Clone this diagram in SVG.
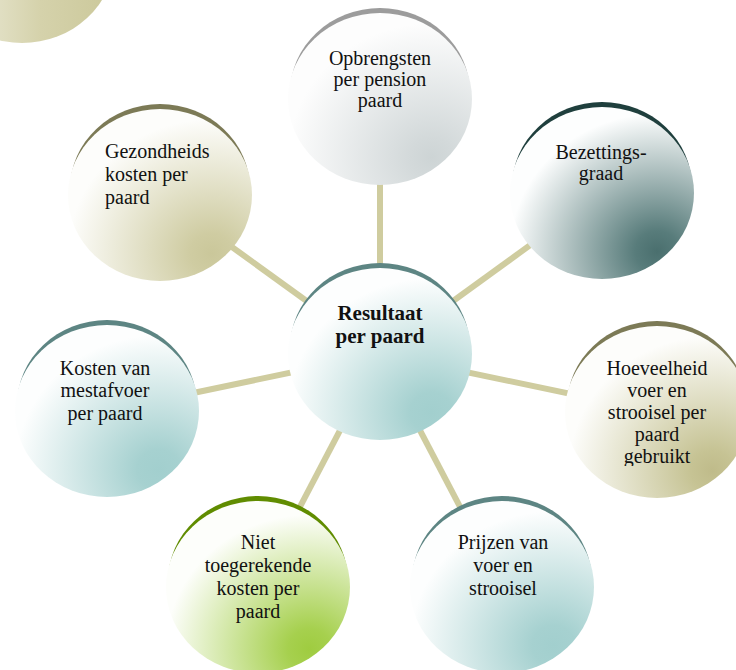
<svg xmlns="http://www.w3.org/2000/svg" width="736" height="670" viewBox="0 0 736 670">
<defs>
<style>
.lbl{font-family:"Liberation Serif","Times New Roman",serif;font-size:20px;fill:#111;text-anchor:middle}
.left{text-anchor:start}
.bold{font-weight:bold;font-size:21px}
.conn{stroke:#cfcc9f;stroke-width:6;fill:none}
</style>
<radialGradient id="gTeal" cx="0.78" cy="0.84" r="0.78"><stop offset="0" stop-color="#a2cfce"/><stop offset="0.15" stop-color="#a6d1d0"/><stop offset="1" stop-color="#fdfefe"/></radialGradient>
<radialGradient id="gOlive" cx="0.78" cy="0.84" r="0.78"><stop offset="0" stop-color="#cac79a"/><stop offset="0.15" stop-color="#cfcca2"/><stop offset="1" stop-color="#fdfdfb"/></radialGradient>
<radialGradient id="gOlive2" cx="0.8" cy="0.84" r="0.78"><stop offset="0" stop-color="#bfbb8a"/><stop offset="0.15" stop-color="#c6c394"/><stop offset="1" stop-color="#fdfdfb"/></radialGradient>
<radialGradient id="gGreen" cx="0.78" cy="0.86" r="0.78"><stop offset="0" stop-color="#9fcc40"/><stop offset="0.15" stop-color="#a6d04e"/><stop offset="1" stop-color="#fdfefb"/></radialGradient>
<radialGradient id="gGrey" cx="0.78" cy="0.84" r="0.78"><stop offset="0" stop-color="#cdd4d5"/><stop offset="0.15" stop-color="#d3d9da"/><stop offset="1" stop-color="#fdfdfd"/></radialGradient>
<radialGradient id="gDark" cx="0.8" cy="0.84" r="0.8"><stop offset="0" stop-color="#4a6f6e"/><stop offset="0.15" stop-color="#587c7b"/><stop offset="1" stop-color="#fdfefe"/></radialGradient>
<linearGradient id="gTL" x1="0" y1="0" x2="1" y2="0"><stop offset="0" stop-color="#f4f4ea"/><stop offset="0.6" stop-color="#d5d2ab"/><stop offset="1" stop-color="#cbc89a"/></linearGradient>
<clipPath id="clipH"><rect x="560" y="330" width="176" height="136"/></clipPath>
</defs>

<g id="connectors">
<line class="conn" x1="380" y1="354" x2="380" y2="99"/>
<line class="conn" x1="380" y1="354" x2="602" y2="193"/>
<line class="conn" x1="380" y1="354" x2="160" y2="195"/>
<line class="conn" x1="380" y1="354" x2="657" y2="412"/>
<line class="conn" x1="380" y1="354" x2="107" y2="411"/>
<line class="conn" x1="380" y1="354" x2="258" y2="587"/>
<line class="conn" x1="380" y1="354" x2="502" y2="587"/>
</g>

<g id="corner">
<ellipse cx="22" cy="-42" rx="92" ry="85" fill="url(#gTL)"/>
</g>

<g id="opbrengsten">
<ellipse cx="380" cy="93" rx="90" ry="85" fill="#9c9c9c"/>
<ellipse cx="380" cy="99" rx="92" ry="86" fill="url(#gGrey)"/>
<text class="lbl" x="380" y="65">Opbrengsten</text>
<text class="lbl" x="380" y="86">per pension</text>
<text class="lbl" x="380" y="107">paard</text>
</g>

<g id="bezettingsgraad">
<ellipse cx="602" cy="187" rx="90" ry="85" fill="#1f3f3d"/>
<ellipse cx="602" cy="193" rx="92" ry="86" fill="url(#gDark)"/>
<text class="lbl" x="601" y="159">Bezettings-</text>
<text class="lbl" x="601" y="180">graad</text>
</g>

<g id="gezondheid">
<ellipse cx="160" cy="189" rx="90" ry="85" fill="#7c7a56"/>
<ellipse cx="160" cy="195" rx="92" ry="86" fill="url(#gOlive)"/>
<text class="lbl left" x="105" y="158">Gezondheids</text>
<text class="lbl left" x="105" y="181">kosten per</text>
<text class="lbl left" x="105" y="204">paard</text>
</g>

<g id="resultaat">
<ellipse cx="380" cy="348" rx="90" ry="85" fill="#5d8583"/>
<ellipse cx="380" cy="354" rx="92" ry="86" fill="url(#gTeal)"/>
<text class="lbl bold" x="380" y="320">Resultaat</text>
<text class="lbl bold" x="380" y="343">per paard</text>
</g>

<g id="hoeveelheid">
<ellipse cx="657" cy="406" rx="90" ry="85" fill="#7c7a56"/>
<ellipse cx="657" cy="412" rx="92" ry="86" fill="url(#gOlive2)"/>
<g clip-path="url(#clipH)">
<text class="lbl" x="657" y="375">Hoeveelheid</text>
<text class="lbl" x="657" y="397">voer en</text>
<text class="lbl" x="657" y="419">strooisel per</text>
<text class="lbl" x="657" y="441">paard</text>
<text class="lbl" x="657" y="463">gebruikt</text>
</g>
</g>

<g id="mestafvoer">
<ellipse cx="107" cy="405" rx="90" ry="85" fill="#5d8583"/>
<ellipse cx="107" cy="411" rx="92" ry="86" fill="url(#gTeal)"/>
<text class="lbl" x="105" y="375">Kosten van</text>
<text class="lbl" x="105" y="397">mestafvoer</text>
<text class="lbl" x="105" y="420">per paard</text>
</g>

<g id="niet-toegerekend">
<ellipse cx="258" cy="581" rx="90" ry="85" fill="#608c00"/>
<ellipse cx="258" cy="587" rx="92" ry="86" fill="url(#gGreen)"/>
<text class="lbl" x="258" y="549">Niet</text>
<text class="lbl" x="258" y="572">toegerekende</text>
<text class="lbl" x="258" y="595">kosten per</text>
<text class="lbl" x="258" y="618">paard</text>
</g>

<g id="prijzen">
<ellipse cx="502" cy="581" rx="90" ry="85" fill="#5d8583"/>
<ellipse cx="502" cy="587" rx="92" ry="86" fill="url(#gTeal)"/>
<text class="lbl" x="503" y="549">Prijzen van</text>
<text class="lbl" x="503" y="572">voer en</text>
<text class="lbl" x="503" y="595">strooisel</text>
</g>
</svg>
